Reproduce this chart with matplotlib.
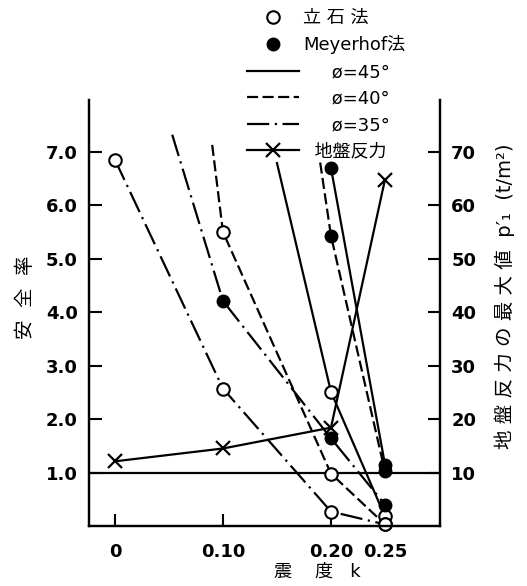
import matplotlib
matplotlib.use('Agg')
import matplotlib.pyplot as plt
from matplotlib.lines import Line2D

plt.rcParams['font.family'] = ['DejaVu Sans', 'Noto Sans CJK JP']

# 立石法 (open circles); first point of 45/40 is where the drawn line starts
tate45_k = [0.150, 0.20, 0.25]
tate45_fs = [6.79, 2.51, 0.18]
tate40_k = [0.090, 0.10, 0.20, 0.25]
tate40_fs = [7.13, 5.50, 0.98, 0.03]
tate35_k = [0.0, 0.10, 0.20, 0.25]
tate35_fs = [6.85, 2.57, 0.27, 0.03]

# Meyerhof法 (filled circles)
mey45_k = [0.20, 0.25]
mey45_fs = [6.70, 1.15]
mey40_k = [0.19, 0.20, 0.25]
mey40_fs = [6.80, 5.43, 1.02]
mey35_k = [0.053, 0.10, 0.20, 0.25]
mey35_fs = [7.32, 4.21, 1.64, 0.40]

# 地盤反力の最大値 (t/m2), right axis
ground_k = [0.0, 0.10, 0.20, 0.25]
ground_p = [12.1, 14.5, 18.4, 64.8]

xticks = [0, 0.10, 0.20, 0.25]
xticklabels = ['0', '0.10', '0.20', '0.25']
yticks = [1, 2, 3, 4, 5, 6, 7]
yticklabels = ['1.0', '2.0', '3.0', '4.0', '5.0', '6.0', '7.0']
y2ticks = [10, 20, 30, 40, 50, 60, 70]

solid = '-'
dashed = (0, (5, 2))
dashdot = (0, (10, 2.5, 1, 2.5))
lw = 1.6

fig = plt.figure(figsize=(5.27, 5.86), dpi=100)
ax = fig.add_axes([0.169, 0.1024, 0.666, 0.727])
ax2 = ax.twinx()

ax.axhline(1.0, color='black', lw=lw)

op = dict(marker='o', markersize=9, markerfacecolor='white', markeredgecolor='black',
          markeredgewidth=1.5, color='black', lw=lw, clip_on=False)
fp = dict(marker='o', markersize=9, markerfacecolor='black', markeredgecolor='black',
          color='black', lw=lw, clip_on=False)

ax.plot(tate45_k, tate45_fs, linestyle=solid, markevery=[1, 2], **op)
ax.plot(tate40_k, tate40_fs, linestyle=dashed, markevery=[1, 2, 3], **op)
ax.plot(tate35_k, tate35_fs, linestyle=dashdot, **op)

ax.plot(mey45_k, mey45_fs, linestyle=solid, **fp)
ax.plot(mey40_k, mey40_fs, linestyle=dashed, markevery=[1, 2], **fp)
ax.plot(mey35_k, mey35_fs, linestyle=dashdot, markevery=[1, 2, 3], **fp)

ax2.plot(ground_k, ground_p, color='black', lw=lw, marker='x', markersize=10,
         markeredgewidth=1.6, clip_on=False)

ax.set_xlim(-0.024, 0.301)
ax.set_ylim(0, 7.97)
ax2.set_ylim(0, 79.7)

ax.set_xticks(xticks)
ax.set_xticklabels(xticklabels)
ax.set_yticks(yticks)
ax.set_yticklabels(yticklabels)
ax2.set_yticks(y2ticks)

for a in (ax, ax2):
    for s in a.spines.values():
        s.set_linewidth(1.6)
    a.spines['top'].set_visible(False)
ax.tick_params(axis='both', direction='in', length=9, width=1.5, labelsize=13)
ax.tick_params(axis='x', pad=12)
ax.tick_params(axis='y', pad=8)
ax2.tick_params(axis='y', direction='in', length=9, width=1.5, labelsize=13, pad=8)
for t in ax.get_xticklabels() + ax.get_yticklabels() + ax2.get_yticklabels():
    t.set_fontweight('bold')

ax.set_ylabel('安  全  率', fontsize=14)
ax.yaxis.set_label_coords(-0.155, 0.537)
ax2.set_ylabel("地 盤 反 力 の 最 大 値  p′₁  (t/m²)", fontsize=14)
ax2.yaxis.set_label_coords(1.155, 0.54)
ax.set_xlabel('震    度   k', fontsize=13)
ax.xaxis.set_label_coords(0.65, -0.085)

handles = [
    Line2D([], [], linestyle='none', marker='o', markersize=9, markerfacecolor='white',
           markeredgecolor='black', markeredgewidth=1.5),
    Line2D([], [], linestyle='none', marker='o', markersize=9, color='black'),
    Line2D([], [], color='black', lw=lw, linestyle=solid),
    Line2D([], [], color='black', lw=lw, linestyle=dashed),
    Line2D([], [], color='black', lw=lw, linestyle=dashdot),
    Line2D([], [], color='black', lw=lw, marker='x', markersize=10, markeredgewidth=1.6),
]
labels = ['立 石 法', 'Meyerhof法', '     ø=45°', '     ø=40°', '     ø=35°', '  地盤反力']
fig.legend(handles, labels, loc='upper left', bbox_to_anchor=(247 / 527, 1 - 9 / 586),
           frameon=False, fontsize=13, handlelength=2.9, handletextpad=0.2,
           labelspacing=0.47, borderpad=0, borderaxespad=0)

fig.savefig('out.png', dpi=100, facecolor='white')
